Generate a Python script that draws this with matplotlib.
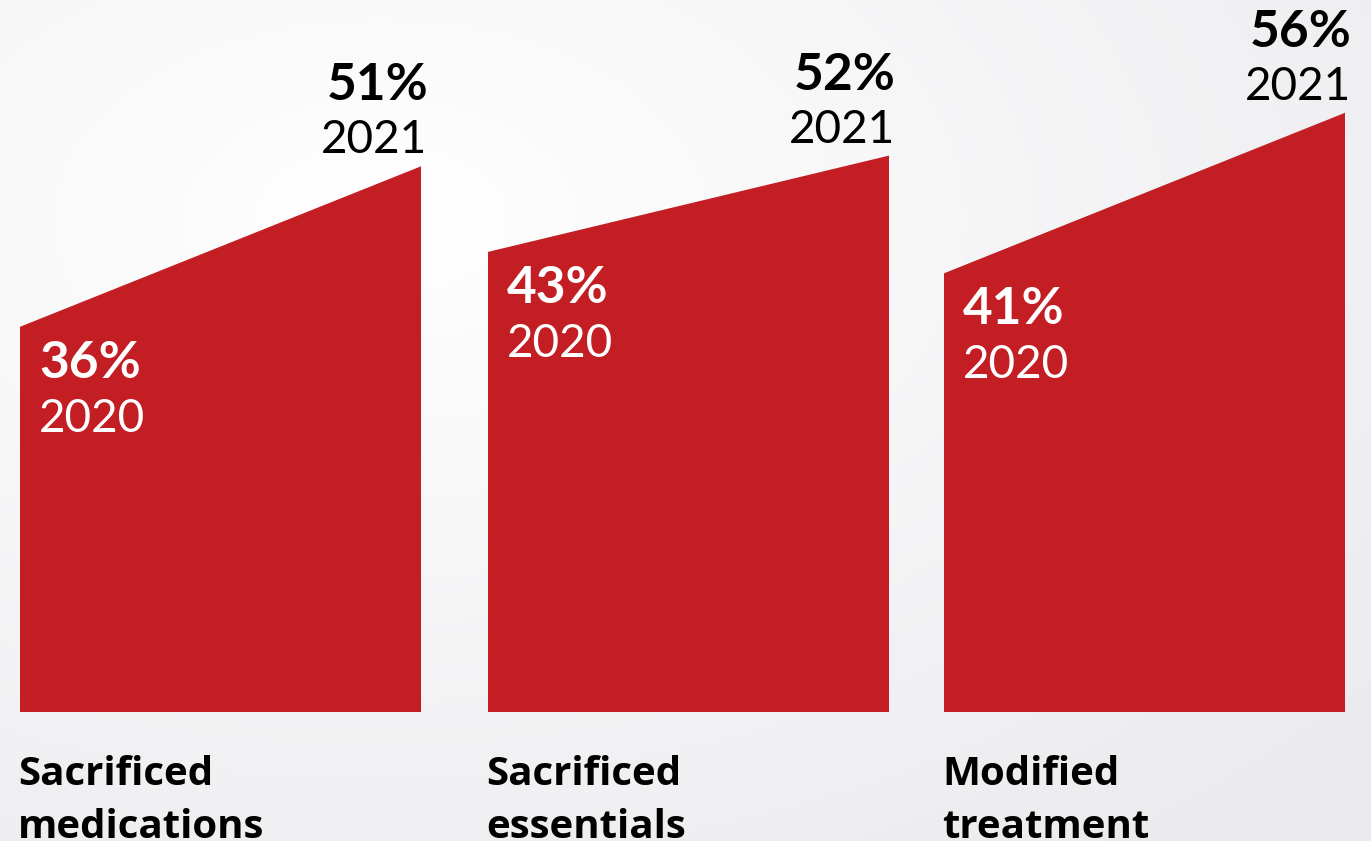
import matplotlib.pyplot as plt
import numpy as np

# share of respondents, 2020 vs 2021
categories = ['Sacrificed\nmedications', 'Sacrificed\nessentials', 'Modified\ntreatment']
vals_2020 = [36, 43, 41]
vals_2021 = [51, 52, 56]
years = ['2020', '2021']

RED = '#c41e25'
W, H = 1371, 841
base_px = 712          # pixel row of the 0% line
px_per_pct = 10.7
lefts = [20, 488, 944]
width = 401

plt.rcParams['font.family'] = ['Lato', 'DejaVu Sans']

fig = plt.figure(figsize=(W / 100, H / 100), dpi=100)

# soft radial background
bg = fig.add_axes([0, 0, 1, 1])
yy, xx = np.mgrid[0:H, 0:W]
d = np.sqrt(((xx - 380) / W) ** 2 + ((yy - 220) / H) ** 2)
d = np.clip(d / 1.0, 0, 1)
c0 = np.array([1.0, 1.0, 1.0])
c1 = np.array([234, 234, 237]) / 255
img = c0[None, None, :] * (1 - d[..., None]) + c1[None, None, :] * d[..., None]
bg.imshow(img, extent=[0, W, H, 0], aspect='auto')
bg.axis('off')

ax = fig.add_axes([0, 0, 1, 1])
ax.patch.set_alpha(0)
ax.set_xlim(0, W)
ax.set_ylim(-(H - base_px) / px_per_pct, base_px / px_per_pct)
ax.axis('off')

for i, cat in enumerate(categories):
    x0 = lefts[i]
    x1 = x0 + width
    a, b = vals_2020[i], vals_2021[i]
    ax.fill([x0, x0, x1, x1], [0, a, b, 0], color=RED, lw=0)

    # 2020 label inside the shape
    ax.annotate(f'{a}%', (x0, a), xytext=(19, -51), textcoords='offset pixels',
                color='white', fontsize=37, fontweight='bold', ha='left', va='baseline')
    ax.annotate(years[0], (x0, a), xytext=(19, -105), textcoords='offset pixels',
                color='white', fontsize=33, ha='left', va='baseline')

    # 2021 label above the right edge
    ax.annotate(f'{b}%', (x1, b), xytext=(7, 66), textcoords='offset pixels',
                color='black', fontsize=37, fontweight='bold', ha='right', va='baseline')
    ax.annotate(years[1], (x1, b), xytext=(6, 13), textcoords='offset pixels',
                color='black', fontsize=33, ha='right', va='baseline')

    # category name under the shape (baseline of the last line)
    ax.annotate(cat, (x0, 0), xytext=(-2, -126), textcoords='offset pixels',
                color='black', fontsize=29, fontweight='bold', ha='left', va='baseline',
                linespacing=1.46, family=['Open Sans', 'DejaVu Sans'])

fig.savefig('out.png', dpi=100)
